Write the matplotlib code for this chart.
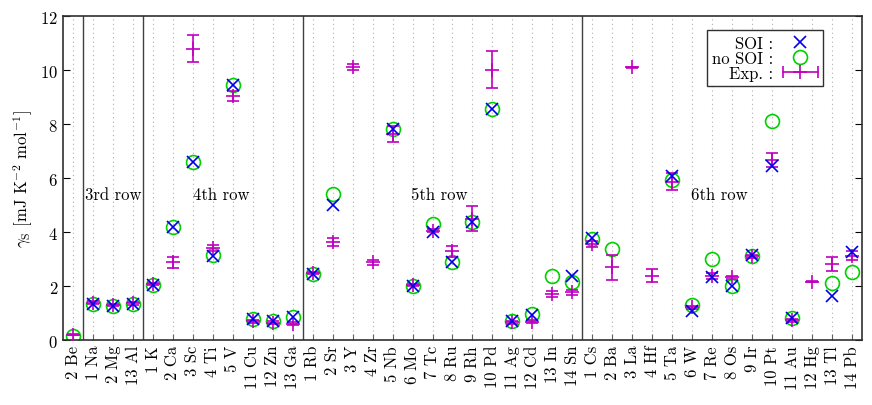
import matplotlib
matplotlib.use("Agg")
import matplotlib.pyplot as plt
from matplotlib.lines import Line2D
from matplotlib.legend_handler import HandlerLine2D
import numpy as np

plt.rcParams['font.family'] = ['cmr10', 'DejaVu Serif']
plt.rcParams['mathtext.fontset'] = 'cm'
plt.rcParams['axes.formatter.use_mathtext'] = True

# 元素ラベル (族番号 + 元素記号)
labels = ['2 Be', '1 Na', '2 Mg', '13 Al',
          '1 K', '2 Ca', '3 Sc', '4 Ti', '5 V', '11 Cu', '12 Zn', '13 Ga',
          '1 Rb', '2 Sr', '3 Y', '4 Zr', '5 Nb', '6 Mo', '7 Tc', '8 Ru', '9 Rh',
          '10 Pd', '11 Ag', '12 Cd', '13 In', '14 Sn',
          '1 Cs', '2 Ba', '3 La', '4 Hf', '5 Ta', '6 W', '7 Re', '8 Os', '9 Ir',
          '10 Pt', '11 Au', '12 Hg', '13 Tl', '14 Pb']

nan = np.nan
soi = [nan, 1.33, 1.25, 1.33,
       2.05, 4.2, 6.6, 3.13, 9.43, 0.78, 0.72, 0.84,
       2.43, 5.02, nan, nan, 7.8, 2.01, 4.02, 2.88, 4.39,
       8.57, 0.72, 0.94, nan, 2.36,
       3.77, nan, nan, nan, 6.09, 1.09, 2.32, 2.01, 3.15,
       6.46, 0.80, nan, 1.64, 3.25]
nosoi = [0.16, 1.33, 1.25, 1.33,
         2.05, 4.2, 6.6, 3.15, 9.43, 0.78, 0.72, 0.86,
         2.43, 5.41, nan, nan, 7.82, 2.01, 4.30, 2.88, 4.39,
         8.57, 0.72, 0.96, 2.39, 2.16,
         3.75, 3.37, nan, nan, 5.91, 1.30, 3.0, 2.01, 3.13,
         8.11, 0.80, nan, 2.11, 2.51]
exp = [0.2, 1.38, 1.3, 1.36,
       2.08, 2.88, 10.79, 3.40, 9.04, 0.69, 0.64, 0.60,
       2.48, 3.62, 10.11, 2.88, 7.64, 2.04, 4.05, 3.29, 4.5,
       10.01, 0.65, 0.68, 1.71, 1.77,
       3.56, 2.69, 10.11, 2.39, 5.87, 1.21, 2.37, 2.32, 3.1,
       6.67, 0.73, 2.16, 2.82, 3.13]
exp_err = [0.02, 0.05, 0.05, 0.05,
           0.05, 0.2, 0.5, 0.12, 0.2, 0.05, 0.05, 0.05,
           0.05, 0.15, 0.1, 0.1, 0.3, 0.05, 0.05, 0.2, 0.45,
           0.68, 0.05, 0.05, 0.1, 0.1,
           0.1, 0.45, 0.02, 0.25, 0.3, 0.05, 0.1, 0.05, 0.05,
           0.25, 0.05, 0.02, 0.25, 0.15]

separators = [0.5, 3.5, 11.5, 25.5]
row_names = ['3rd row', '4th row', '5th row', '6th row']
row_x = [2.0, 7.4, 18.35, 32.35]

blue = '#0000e8'
green = '#00d000'
magenta = '#c000c0'
fs = 12

fig = plt.figure(figsize=(8.72, 4.06), dpi=100)
ax = fig.add_axes([0.0722, 0.160, 0.9163, 0.798])

x = np.arange(len(labels))

for xi in x:
    ax.axvline(xi, color='#b0b0b0', lw=0.8, ls=(0, (1, 3)), zorder=0)
for s in separators:
    ax.axvline(s, color='#404040', lw=1.0, zorder=1)

ax.errorbar(x, exp, yerr=exp_err, fmt='+', color=magenta, ms=10, mew=1.2,
            elinewidth=1.2, capsize=4, capthick=1.2, zorder=3)
ax.plot(x, nosoi, 'o', mfc='none', mec=green, ms=10, mew=1.2, zorder=2)
ax.plot(x, soi, 'x', color=blue, ms=9, mew=1.2, zorder=4)

for name, rx in zip(row_names, row_x):
    ax.text(rx, 5.4, name, ha='center', va='center', fontsize=fs)

ax.set_xlim(-0.5, len(labels) - 0.5)
ax.set_ylim(0, 12)
ax.set_yticks(np.arange(0, 13, 2))
ax.set_xticks(x)
ax.set_xticklabels(labels, rotation=90, fontsize=fs)
ax.tick_params(axis='y', labelsize=fs, direction='in', right=True, length=5)
ax.tick_params(axis='x', direction='in', length=4, color='#606060')
ax.set_ylabel(r'$\gamma_{\rm S}$ [mJ K$^{-2}$ mol$^{-1}$]', fontsize=fs)
for sp in ax.spines.values():
    sp.set_color('#303030')
    sp.set_linewidth(1.2)

# 凡例の Exp. はキャップ付きの横棒にする
exp_line = Line2D([], [], ls='-', marker='+', color=magenta, ms=10, mew=1.2, lw=1.2)
exp_caps = Line2D([], [], ls='none', marker='|', color=magenta, ms=8, mew=1.2)
handles = [Line2D([], [], ls='none', marker='x', color=blue, ms=9, mew=1.2),
           Line2D([], [], ls='none', marker='o', mfc='none', mec=green, ms=10, mew=1.2),
           (exp_line, exp_caps)]
leg = ax.legend(handles, ['SOI :', 'no SOI :', 'Exp. :'], loc='upper right',
                bbox_to_anchor=(0.951, 0.956), borderaxespad=0, markerfirst=False,
                fontsize=fs, fancybox=False, edgecolor='#303030', framealpha=1,
                handlelength=2.1, handletextpad=0.6, labelspacing=0.0, borderpad=0.3,
                handler_map={exp_caps: HandlerLine2D(numpoints=2, marker_pad=0.0)})
leg.get_frame().set_linewidth(1.0)

fig.savefig('out.png', dpi=100)
